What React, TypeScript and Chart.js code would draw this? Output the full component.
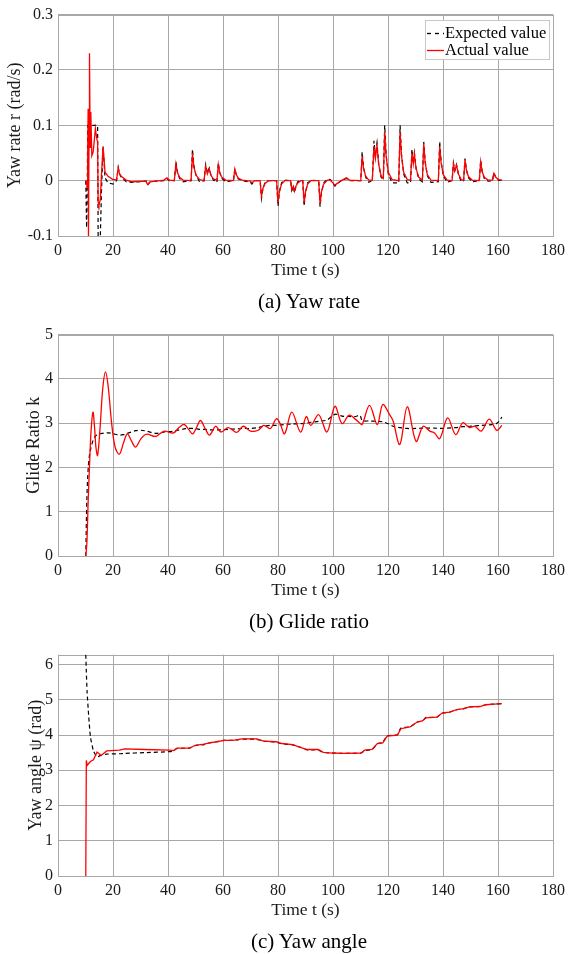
import React, { useEffect, useRef } from 'react';
import { Chart, registerables } from 'chart.js';

Chart.register(...registerables);

const SERIF = "'Liberation Serif', 'Times New Roman', serif";
const GRID = '#a8a8a8';
const TEXT = '#1a1a1a';
const RED = '#ff0000';
const BLACK = '#000000';

// ---------- shared texts ----------
const legendLabels = ['Expected value', 'Actual value'];
const xTitle = 'Time t (s)';
const captions = ['(a) Yaw rate', '(b) Glide ratio', '(c) Yaw angle'];
const yTitles = ['Yaw rate r (rad/s)', 'Glide Ratio k', 'Yaw angle \u03c8 (rad)'];

// ---------- (a) Yaw rate ----------
const yawRateTime = [
  10.1, 10.4, 10.6, 10.8, 10.96,
  11.08, 11.3, 11.45, 11.7, 11.93,
  12.3, 12.8, 13.6, 14.1, 14.4,
  14.6, 14.9, 15.4, 15.8, 16.4,
  17.1, 18.2, 20, 21.3, 21.9,
  22.4, 23, 24.8, 27, 32,
  32.6, 33.5, 38.5, 39.6, 40.5,
  42.3, 42.9, 43.4, 44.2, 45.5,
  48.4, 48.9, 49.4, 50.2, 51.5,
  53.1, 53.7, 54.3, 55.0, 55.6,
  56.5, 57.8, 58.3, 58.8, 59.6,
  61, 63.8, 64.3, 64.8, 65.6,
  67, 70, 70.5, 71.5, 73.5,
  74.0, 74.5, 75.3, 76.5, 79.5,
  80.0, 80.5, 81.3, 82.5, 84.6,
  85.0, 85.6, 86.0, 86.5, 87.2,
  88.4, 89.0, 89.5, 90.0, 90.8,
  92.0, 94.8, 95.3, 95.8, 96.6,
  98, 99, 100.7, 101.8, 103,
  104.9, 106, 110.1, 110.6, 111.1,
  111.9, 113, 114.3, 114.9, 115.4,
  116.0, 116.6, 117.5, 118.3, 118.8,
  119.3, 120.1, 121.5, 123.9, 124.4,
  124.9, 125.7, 127, 128.2, 128.7,
  129.2, 129.6, 130.2, 131.2, 132.5,
  133.0, 133.5, 134.3, 135.6, 138.3,
  138.8, 139.3, 140.1, 141.5, 143.3,
  143.8, 144.3, 144.9, 145.6, 146.6,
  147.5, 148.0, 148.5, 149.3, 150.6,
  153.2, 153.7, 154.2, 155, 156.4,
  158.0, 158.5, 159.2, 160.2, 161.5,
];
const yawRateActual = [
  0, -0.005, -0.012, 0.05, 0.13,
  -0.1, 0.1, 0.23, 0.06, 0.124,
  0.045, 0.052, 0.094, 0.076, 0.07,
  -0.039, -0.045, -0.033, 0.01, 0.062,
  0.015, 0.008, 0.002, 0.002, 0.023,
  0.012, 0.008, 0.001, -0.002, -0.001,
  -0.007, -0.002, 0.001, 0.005, 0.001,
  0, 0.03, 0.015, 0.006, 0.001,
  0, 0.05, 0.025, 0.01, 0.002,
  0, 0.026, 0.012, 0.021, 0.01,
  0.003, 0.001, 0.029, 0.014, 0.006,
  0.001, 0, 0.021, 0.011, 0.004,
  0.001, -0.001, -0.004, 0, 0,
  -0.028, -0.014, -0.005, 0, 0,
  -0.04, -0.02, -0.006, 0, 0,
  -0.016, -0.01, -0.019, -0.01, -0.004,
  0, 0, -0.04, -0.02, -0.006,
  0, 0, -0.042, -0.02, -0.006,
  0.001, 0.001, -0.008, -0.004, 0,
  0.005, 0.001, 0, 0.045, 0.022,
  0.008, 0.001, 0.001, 0.062, 0.04,
  0.063, 0.03, 0.008, 0.004, 0.088,
  0.045, 0.015, 0.002, 0, 0.088,
  0.045, 0.015, 0.002, 0.001, 0.05,
  0.03, 0.048, 0.022, 0.006, 0.001,
  0.066, 0.033, 0.011, 0.001, 0,
  0.062, 0.033, 0.011, 0.001, 0,
  0.03, 0.018, 0.028, 0.012, 0.002,
  0.001, 0.038, 0.019, 0.007, 0.001,
  0, 0.034, 0.017, 0.006, 0.001,
  0.001, 0.013, 0.006, 0.002, 0.001,
];
const yawRateExpected = [
  0, -0.085, -0.04, 0.1, 0.1,
  0.1, 0.1, 0.1, 0.1, 0.1,
  0.1, 0.1, 0.1, 0.1, 0.1,
  -0.1, -0.1, -0.1, -0.02, 0.06,
  0.005, -0.004, -0.006, 0, 0.024,
  0.012, 0.006, -0.002, -0.003, -0.001,
  -0.008, -0.002, 0, 0.004, 0,
  0, 0.034, 0.016, 0.004, -0.002,
  0, 0.057, 0.027, 0.009, -0.002,
  0, 0.029, 0.014, 0.023, 0.01,
  0.001, -0.003, 0.032, 0.015, 0.004,
  -0.002, 0, 0.022, 0.011, 0.003,
  0, -0.003, -0.006, 0, 0,
  -0.032, -0.015, -0.003, 0, 0,
  -0.046, -0.02, -0.004, 0.001, 0,
  -0.018, -0.011, -0.022, -0.011, -0.002,
  0.001, 0, -0.046, -0.021, -0.004,
  0.001, 0, -0.047, -0.022, -0.004,
  0.003, 0.002, -0.01, -0.005, 0,
  0.004, 0, 0, 0.052, 0.024,
  0.006, -0.003, 0, 0.072, 0.045,
  0.068, 0.03, 0.006, 0.002, 0.1,
  0.048, 0.012, -0.004, -0.004, 0.1,
  0.048, 0.012, -0.004, -0.004, 0.057,
  0.032, 0.05, 0.022, 0.003, -0.002,
  0.07, 0.035, 0.009, -0.003, -0.002,
  0.07, 0.035, 0.009, -0.003, 0,
  0.032, 0.018, 0.029, 0.012, -0.002,
  0, 0.04, 0.02, 0.005, -0.002,
  0, 0.037, 0.018, 0.004, -0.001,
  0, 0.014, 0.006, 0.001, 0,
];

// ---------- (b) Glide ratio ----------
const glideTime = [
  10.1, 10.5, 11.0, 11.5, 12.0,
  12.7, 13.3, 13.8, 14.4, 15.3,
  16.3, 17.3, 18.3, 19.5, 20.8,
  22.3, 23.8, 25.2, 26.7, 28.2,
  30.2, 32.2, 35.4, 37, 38.7,
  42, 44, 45.9, 47.5, 49,
  50.5, 51.8, 53.5, 55.1, 57.3,
  59.3, 61.9, 65, 67.3, 70,
  72.8, 74.8, 77.2, 79.4, 80.7,
  82.4, 85, 88.2, 90.3, 91.9,
  94.8, 97.8, 100.7, 103.3, 105.9,
  108.3, 109.8, 110.6, 113.3, 116.1,
  118.1, 120.7, 121.8, 124.3, 127,
  130.2, 132.8, 135.2, 136.9, 138.8,
  141.7, 144.6, 147.2, 149.6, 151.6,
  153.9, 156.8, 159.4, 160.5, 161.4,
];
const glideActual = [
  0, 0.3, 1.3, 2.1, 2.8,
  3.25, 2.9, 2.45, 2.27, 2.9,
  3.8, 4.16, 3.8, 3.0, 2.45,
  2.3, 2.55, 2.76, 2.6, 2.46,
  2.65, 2.75, 2.7, 2.76, 2.82,
  2.78, 2.9, 2.97, 2.86, 2.76,
  2.92, 3.06, 2.88, 2.73, 2.93,
  2.8, 2.9, 2.79, 2.93, 2.82,
  2.84, 2.95, 2.88, 3.1, 3.0,
  2.76, 3.25, 2.8, 3.15, 2.95,
  3.19, 2.8, 3.38, 2.99, 3.18,
  3.08, 3.0, 2.97, 3.4, 2.97,
  3.42, 3.18, 3.06, 2.52, 3.37,
  2.59, 2.93, 2.82, 2.78, 2.65,
  3.12, 2.74, 3.01, 2.9, 2.93,
  2.82, 3.09, 2.84, 2.88, 2.95,
];
const glideExpected = [
  0, 1.3, 2.0, 2.3, 2.45,
  2.6, 2.68, 2.72, 2.74, 2.76,
  2.77, 2.78, 2.78, 2.77, 2.75,
  2.73, 2.74, 2.77, 2.8, 2.83,
  2.84, 2.82, 2.77, 2.78, 2.8,
  2.82, 2.85, 2.87, 2.88, 2.88,
  2.87, 2.86, 2.86, 2.85, 2.85,
  2.85, 2.86, 2.87, 2.88, 2.88,
  2.9, 2.93, 2.95, 2.95, 2.96,
  2.97, 2.98, 2.99, 3.0, 3.02,
  3.04, 3.07, 3.2, 3.16, 3.15,
  3.15, 3.18, 3.06, 3.05, 3.04,
  3.03, 2.97, 2.93, 2.9, 2.88,
  2.88, 2.89, 2.89, 2.89, 2.88,
  2.89, 2.9, 2.92, 2.93, 2.94,
  2.95, 2.96, 2.99, 3.05, 3.14,
];

// ---------- (c) Yaw angle ----------
const yawAngleTime = [
  10.1, 10.3, 10.6, 11.2, 11.8,
  12.9, 14.2, 15.7, 17.7, 22.3,
  24.3, 31.5, 40.7, 42, 43.3,
  47.9, 49.9, 53.1, 55.1, 57.7,
  60.4, 63.6, 66.9, 72.2, 74.8,
  79.4, 81.4, 85.3, 87.9, 90.6,
  94.5, 96.5, 99.7, 103.7, 110.2,
  111.5, 114.2, 116.1, 118.1, 119.7,
  123.4, 124.7, 128, 130.6, 132.5,
  133.9, 137.8, 139.8, 142.4, 145,
  147.6, 149.6, 153.5, 155.5, 158.8,
  161.4,
];
const yawAngleActual = [
  0, 3.28, 3.14, 3.2, 3.25,
  3.3, 3.52, 3.42, 3.55, 3.57,
  3.61, 3.59, 3.57, 3.56, 3.63,
  3.63, 3.71, 3.74, 3.78, 3.81,
  3.85, 3.85, 3.89, 3.89, 3.83,
  3.81, 3.76, 3.73, 3.66, 3.59,
  3.59, 3.51, 3.49, 3.48, 3.49,
  3.57, 3.59, 3.76, 3.78, 3.97,
  4.0, 4.18, 4.23, 4.37, 4.4,
  4.49, 4.51, 4.63, 4.65, 4.72,
  4.75, 4.8, 4.81, 4.86, 4.88,
  4.89,
];
const yawAngleExpected = [
  6.28, 5.8, 5.2, 4.5, 3.95,
  3.55, 3.38, 3.43, 3.46, 3.47,
  3.48, 3.5, 3.53, 3.55, 3.62,
  3.63, 3.7, 3.73, 3.78, 3.81,
  3.85, 3.85, 3.88, 3.88, 3.83,
  3.8, 3.75, 3.72, 3.66, 3.58,
  3.58, 3.51, 3.49, 3.48, 3.49,
  3.56, 3.59, 3.75, 3.79, 3.98,
  4.01, 4.2, 4.23, 4.37, 4.4,
  4.5, 4.51, 4.62, 4.65, 4.72,
  4.75, 4.8, 4.81, 4.86, 4.88,
  4.89,
];

type Panel = {
  time: number[];
  actual: number[];
  expected: number[];
  yMin: number;
  yMax: number;
  yStep: number;
  yTitle: string;
  yTitleOffset: number;
  caption: string;
  legend: boolean;
  tensionActual: number;
  tensionExpected: number;
  canvasHeight: number;
  top: number;
};

const panels: Panel[] = [
  {
    time: yawRateTime, actual: yawRateActual, expected: yawRateExpected,
    yMin: -0.1, yMax: 0.3, yStep: 0.1, yTitle: yTitles[0], yTitleOffset: 4.5,
    caption: captions[0], legend: true, tensionActual: 0, tensionExpected: 0,
    canvasHeight: 320, top: 0,
  },
  {
    time: glideTime, actual: glideActual, expected: glideExpected,
    yMin: 0, yMax: 5, yStep: 1, yTitle: yTitles[1], yTitleOffset: 23,
    caption: captions[1], legend: false, tensionActual: 0.35, tensionExpected: 0.3,
    canvasHeight: 320, top: 320,
  },
  {
    time: yawAngleTime, actual: yawAngleActual, expected: yawAngleExpected,
    yMin: 0, yMax: 2 * Math.PI, yStep: 1, yTitle: yTitles[2], yTitleOffset: 25,
    caption: captions[2], legend: false, tensionActual: 0, tensionExpected: 0.2,
    canvasHeight: 314, top: 640,
  },
];

const framePlugin = {
  id: 'frame',
  beforeDatasetsDraw(chart: any) {
    const { ctx, chartArea: a } = chart;
    ctx.save();
    ctx.strokeStyle = GRID;
    ctx.lineWidth = 1;
    ctx.strokeRect(Math.round(a.left) + 0.5, Math.round(a.top) + 0.5,
      Math.round(a.right - a.left), Math.round(a.bottom - a.top));
    ctx.restore();
  },
};

const legendBoxPlugin = {
  id: 'legendBox',
  afterDraw(chart: any) {
    const { ctx, chartArea: a } = chart;
    const bw = 124, bh = 39;
    const bx = Math.round(a.right) - 4 - bw;
    const by = Math.round(a.top) + 5;
    ctx.save();
    ctx.fillStyle = '#ffffff';
    ctx.fillRect(bx, by, bw, bh);
    ctx.strokeStyle = '#c8c8c8';
    ctx.lineWidth = 1;
    ctx.strokeRect(bx + 0.5, by + 0.5, bw, bh);
    const items = [
      { text: legendLabels[0], color: BLACK, dash: [4, 4] },
      { text: legendLabels[1], color: RED, dash: [] as number[] },
    ];
    ctx.font = `16.5px ${SERIF}`;
    ctx.textBaseline = 'middle';
    ctx.textAlign = 'left';
    items.forEach((it, i) => {
      const y = by + 13 + i * 17;
      ctx.beginPath();
      ctx.setLineDash(it.dash);
      ctx.strokeStyle = it.color;
      ctx.lineWidth = 1.3;
      ctx.moveTo(bx + 2, y + 0.5);
      ctx.lineTo(bx + 19, y + 0.5);
      ctx.stroke();
      ctx.setLineDash([]);
      ctx.fillStyle = '#000';
      ctx.fillText(it.text, bx + 20, y + 1);
    });
    ctx.restore();
  },
};

function toPoints(t: number[], v: number[]) {
  const n = Math.min(t.length, v.length);
  const out: { x: number; y: number }[] = [];
  for (let i = 0; i < n; i++) out.push({ x: t[i], y: v[i] });
  return out;
}

function PanelChart({ p }: { p: Panel }) {
  const ref = useRef<HTMLCanvasElement | null>(null);
  useEffect(() => {
    if (!ref.current) return;
    const xAxisHeight = 50;
    const padBottom = p.canvasHeight - 236 - xAxisHeight;
    const chart = new Chart(ref.current, {
      type: 'line',
      data: {
        datasets: [
          {
            label: legendLabels[1],
            data: toPoints(p.time, p.actual),
            borderColor: RED,
            borderWidth: 1.3,
            pointRadius: 0,
            tension: p.tensionActual,
            fill: false,
          },
          {
            label: legendLabels[0],
            data: toPoints(p.time, p.expected),
            borderColor: BLACK,
            borderWidth: 1.2,
            borderDash: [4, 3],
            pointRadius: 0,
            tension: p.tensionExpected,
            fill: false,
          },
        ],
      },
      options: {
        animation: false,
        responsive: false,
        maintainAspectRatio: false,
        layout: { padding: { left: 0, top: 14, right: 14, bottom: padBottom } },
        plugins: {
          legend: { display: false },
          tooltip: { enabled: false },
          title: { display: false },
        },
        scales: {
          x: {
            type: 'linear',
            min: 0,
            max: 180,
            ticks: {
              stepSize: 20,
              padding: 5,
              maxRotation: 0,
              autoSkip: false,
              color: TEXT,
              font: { family: SERIF, size: 16 },
            },
            grid: { color: GRID, lineWidth: 1, drawTicks: false },
            border: { display: false },
            title: {
              display: true,
              text: xTitle,
              color: TEXT,
              font: { family: SERIF, size: 17.5 },
              padding: { top: 0, bottom: 5.5 },
            },
            afterFit: (s: any) => { s.height = xAxisHeight; },
          },
          y: {
            type: 'linear',
            min: p.yMin,
            max: p.yMax,
            ticks: {
              stepSize: p.yStep,
              includeBounds: false,
              padding: 5,
              color: TEXT,
              font: { family: SERIF, size: 16 },
              callback: (v: any) => String(Math.round(Number(v) * 10) / 10),
            },
            grid: { color: GRID, lineWidth: 1, drawTicks: false },
            border: { display: false },
            title: {
              display: true,
              text: p.yTitle,
              color: TEXT,
              font: { family: SERIF, size: 18 },
              padding: { top: p.yTitleOffset, bottom: 0 },
            },
            afterFit: (s: any) => { s.width = 58; },
          },
        },
      } as any,
      plugins: p.legend ? [framePlugin, legendBoxPlugin] : [framePlugin],
    });
    return () => chart.destroy();
  }, [p]);

  return (
    <>
      <canvas
        ref={ref}
        width={570}
        height={p.canvasHeight}
        style={{ position: 'absolute', left: 0, top: p.top, width: 570, height: p.canvasHeight }}
      />
      <div
        style={{
          position: 'absolute',
          left: 60,
          width: 498,
          top: p.top + 301 - 12,
          height: 24,
          lineHeight: '24px',
          textAlign: 'center',
          fontFamily: SERIF,
          fontSize: 21,
          color: '#000',
          whiteSpace: 'nowrap',
        }}
      >
        {p.caption}
      </div>
    </>
  );
}

export default function App() {
  return (
    <div
      style={{
        position: 'absolute',
        left: 0,
        top: 0,
        width: 570,
        height: 954,
        background: '#ffffff',
        overflow: 'hidden',
      }}
    >
      {panels.map((p, i) => (
        <PanelChart key={i} p={p} />
      ))}
    </div>
  );
}
